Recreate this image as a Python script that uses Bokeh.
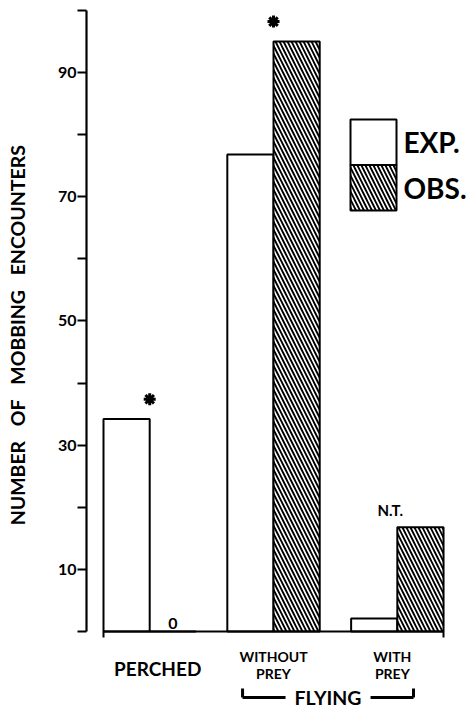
import math
from bokeh.plotting import figure
from bokeh.models import Range1d, FixedTicker, Label, Arrow, BoxAnnotation
from bokeh.embed import file_html
from bokeh.resources import INLINE

# ---------------- data ----------------
categories = ["PERCHED", "WITHOUT\nPREY", "WITH\nPREY"]
expected = [34.2, 76.8, 2.1]
observed = [0.0, 95.0, 16.8]
significance = ["*", "*", "N.T."]
group_label = "FLYING"
series_names = ["EXP.", "OBS."]
y_tick_labels = [10, 30, 50, 70, 90]
y_minor_ticks = [0, 20, 40, 60, 80, 100]
y_title = "NUMBER\u2003OF\u2003MOBBING\u2003ENCOUNTERS"

# ---------------- layout ----------------
FONT = "Lato"
INK = "black"
GROUP_STEP = 2.68
BAR_W = 1.0
PX_X = 46.2      # pixels per x unit
PX_Y = 6.211     # pixels per y unit
FW, FH = 470, 709
X0_PX, Y0_PX = 103.0, 631.0   # screen position of the data origin
label_x_offsets = [8, 0, -5]

def sx(px):  # screen x -> data x
    return (px - X0_PX) / PX_X

def sy(py):  # screen y -> data y
    return (Y0_PX - py) / PX_Y

n = len(categories)
group_left = [i * GROUP_STEP for i in range(n)]
exp_x = [g + 0.5 for g in group_left]
obs_x = [g + 1.5 for g in group_left]
boundary = [g + 1.0 for g in group_left]
centers = boundary
bars_end = group_left[-1] + 2 * BAR_W

p = figure(frame_width=FW, frame_height=FH,
           x_range=Range1d(sx(0), sx(FW)), y_range=Range1d(sy(FH), sy(0)),
           min_border_left=0, min_border_right=0, min_border_top=0, min_border_bottom=0,
           output_backend="svg", toolbar_location=None)
p.outline_line_color = None
p.xgrid.visible = False
p.ygrid.visible = False
p.background_fill_color = "white"
p.border_fill_color = "white"

# y axis
p.yaxis.fixed_location = sx(86)
p.yaxis.ticker = FixedTicker(ticks=y_tick_labels, minor_ticks=y_minor_ticks)
p.yaxis.bounds = (0, 100)
p.yaxis.major_tick_out = 9
p.yaxis.major_tick_in = 0
p.yaxis.minor_tick_out = 9
p.yaxis.minor_tick_in = 0
p.yaxis.major_tick_line_width = 2
p.yaxis.minor_tick_line_width = 2
p.yaxis.axis_line_width = 2.2
p.yaxis.axis_line_color = INK
p.yaxis.major_tick_line_color = INK
p.yaxis.minor_tick_line_color = INK
p.yaxis.major_label_text_color = INK
p.yaxis.major_label_text_font = FONT
p.yaxis.major_label_text_font_style = "bold"
p.yaxis.major_label_text_font_size = "16px"
p.yaxis.major_label_standoff = 1

# x axis
p.xaxis.fixed_location = 0
p.xaxis.ticker = FixedTicker(ticks=[], minor_ticks=[0, bars_end])
p.xaxis.bounds = (0, bars_end)
p.xaxis.minor_tick_out = 6
p.xaxis.minor_tick_in = 0
p.xaxis.minor_tick_line_width = 2
p.xaxis.minor_tick_line_color = INK
p.xaxis.axis_line_width = 2.2
p.xaxis.axis_line_color = INK

# bar styles
plain = dict(fill_color="white", fill_alpha=1.0, line_color=INK, line_alpha=1.0, line_width=2)
hatched = dict(plain, hatch_pattern="left_diagonal_line", hatch_color=INK,
               hatch_alpha=1.0, hatch_scale=8, hatch_weight=1.9)

p.vbar(x=exp_x, top=expected, bottom=0, width=BAR_W, **plain)
p.vbar(x=obs_x, top=observed, bottom=0, width=BAR_W, **hatched)

# legend (stacked key box)
key_l, key_r = sx(350), sx(396)
key_edges = [sy(119), sy(164.5), sy(210)]
for i, (name, style) in enumerate(zip(series_names, [plain, hatched])):
    p.add_layout(BoxAnnotation(left=key_l, right=key_r, top=key_edges[i],
                               bottom=key_edges[i + 1], **style))
    p.add_layout(Label(x=key_r, y=(key_edges[i] + key_edges[i + 1]) / 2, x_offset=7,
                       text=name, text_align="left", text_baseline="middle",
                       text_font=FONT, text_font_style="bold", text_font_size="28px",
                       text_color=INK))

# significance marks
star_x = [boundary[i] for i in range(n) if significance[i] == "*"]
star_y = [max(expected[i], observed[i]) + 3.2 for i in range(n) if significance[i] == "*"]
p.scatter(star_x, star_y, marker="asterisk", size=12, line_width=3, line_color=INK)

nt_x = [boundary[i] for i in range(n) if significance[i] != "*"]
nt_y = [max(expected[i], observed[i]) + 2.8 for i in range(n) if significance[i] != "*"]
nt_t = [significance[i] for i in range(n) if significance[i] != "*"]
p.text(nt_x, nt_y, text=nt_t, text_align="center", text_baseline="middle",
       x_offset=-7, text_font_size="15px", text_font_style="bold",
       text_font={"value": FONT}, text_color=INK)

# zero label
zero_x = [obs_x[i] for i in range(n) if observed[i] == 0]
zero_y = [0 for i in range(n) if observed[i] == 0]
p.text(zero_x, zero_y, text=["0"] * len(zero_x), text_align="center",
       text_baseline="bottom", y_offset=-3, text_font_size="16px",
       text_font_style="bold", text_font={"value": FONT}, text_color=INK)

# category labels
for i, cat in enumerate(categories):
    multi = "\n" in cat
    p.add_layout(Label(x=centers[i], y=(sy(664) if multi else sy(668)),
                       x_offset=label_x_offsets[i],
                       text=cat, text_align="center", text_baseline="middle",
                       text_font=FONT, text_font_style="bold",
                       text_font_size=("14px" if multi else "19px"),
                       text_line_height=1.0, text_color=INK))

# FLYING bracket
br_left = centers[1] - 0.67
br_right = centers[2] + 0.35
br_mid = (br_left + br_right) / 2
br_y = sy(697)
br_top = sy(688)
gap = 0.92
for xs, ys, xe, ye in [(br_left, br_top, br_left, br_y), (br_left, br_y, br_mid - gap, br_y),
                       (br_mid + gap, br_y, br_right, br_y), (br_right, br_y, br_right, br_top)]:
    p.add_layout(Arrow(x_start=xs, y_start=ys, x_end=xe, y_end=ye, end=None,
                       line_width=3, line_color=INK))
p.add_layout(Label(x=br_mid, y=br_y, text=group_label, text_align="center",
                   text_baseline="middle", text_font=FONT, text_font_style="bold",
                   text_font_size="19.5px", text_color=INK))

# y title
p.add_layout(Label(x=sx(17), y=47.7, angle=math.pi / 2, text=y_title,
                   text_align="center", text_baseline="middle", text_font=FONT,
                   text_font_style="bold", text_font_size="19.5px", text_color=INK))

open("out.html", "w").write(file_html(p, INLINE))
